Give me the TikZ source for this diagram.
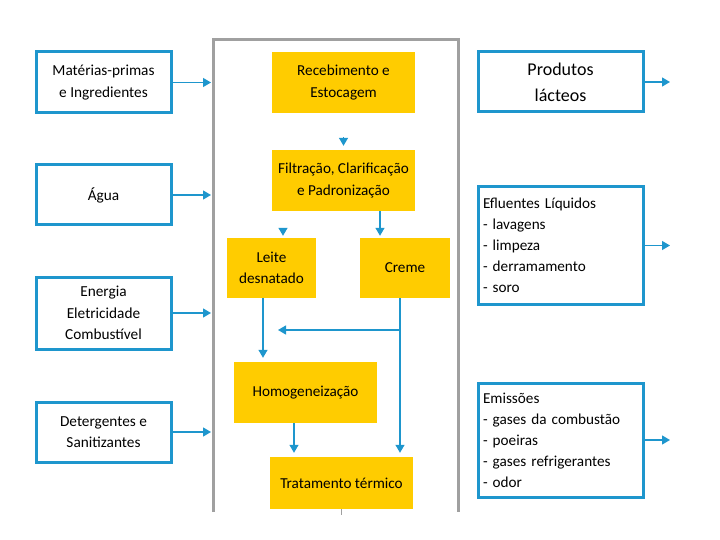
\documentclass[tikz,border=0pt]{standalone}
\usepackage{fontspec}
\setmainfont{Carlito}
\usepackage{tikz}
\usetikzlibrary{arrows.meta}
\definecolor{lineblue}{RGB}{30,150,205}
\definecolor{boxyellow}{RGB}{255,204,0}
\definecolor{framegray}{RGB}{160,160,160}

\begin{document}
\begin{tikzpicture}[x=1pt,y=1pt,yscale=-1,
  inbox/.style={draw=lineblue,line width=3pt,fill=white,minimum width=135pt,align=center,inner sep=0pt,font=\fontsize{15.3}{21.5}\selectfont},
  outbox/.style={draw=lineblue,line width=3pt,fill=white,minimum width=165pt,inner sep=0pt},
  stepbox/.style={fill=boxyellow,align=center,inner sep=0pt,font=\fontsize{15.2}{21.5}\selectfont},
  flow/.style={draw=lineblue,line width=1.3pt,-{Triangle[length=8pt,width=9pt]}}]
\useasboundingbox (0,0) rectangle (720,540);

%Frame of the process
\draw [framegray,line width=3pt] (213,512) -- (213,40) -- (458,40) -- (458,512) ;
\coordinate (fl) at (211,0);
\coordinate (fr) at (670,0);

% Input Nodes
\node (mat) at (103.5,82.5) [inbox,minimum height=61pt] {Matérias-primas\\e Ingredientes};
\node (agua) at (103.5,195) [inbox,minimum height=60pt] {Água};
\node (energia) at (103.5,313) [inbox,minimum height=72pt] {Energia\\Eletricidade\\Combustível};
\node (deterg) at (103.5,432) [inbox,minimum height=60pt] {Detergentes e\\Sanitizantes};

% Process Nodes
\node (receb) at (343.5,82.5) [stepbox,minimum width=143pt,minimum height=61pt] {Recebimento e\\Estocagem};
\node (filtr) at (343.5,180.5) [stepbox,minimum width=143pt,minimum height=61pt] {Filtração, Clarificação\\e Padronização};
\node (leite) at (271.5,268) [stepbox,minimum width=89pt,minimum height=60pt] {Leite\\desnatado};
\node (creme) at (405,268) [stepbox,minimum width=90pt,minimum height=60pt] {Creme};
\node (homog) at (305.5,392.5) [stepbox,minimum width=143pt,minimum height=61pt] {Homogeneização};
\node (trat) at (341.5,483) [stepbox,minimum width=143pt,minimum height=52pt] {Tratamento térmico};

% Output Nodes
\node (prod) at (560.5,82) [outbox,minimum height=60pt,align=center,font=\fontsize{18}{26}\selectfont] {Produtos\\lácteos};
\node (eflu) at (560.5,245.5) [outbox,minimum height=117pt,text width=155pt,align=left,font=\fontsize{15.2}{21}\selectfont] {Efluentes Líquidos\\- lavagens\\- limpeza\\- derramamento\\- soro};
\node (emis) at (560.5,440) [outbox,minimum height=114pt,text width=155pt,align=left,font=\fontsize{15.2}{21}\selectfont] {Emissões\\- gases da combustão\\- poeiras\\- gases refrigerantes\\- odor};

%Input arrows
\draw [flow] (mat.east) -- (mat.east -| fl) ;
\draw [flow] (agua.east) -- (agua.east -| fl) ;
\draw [flow] (energia.east) -- (energia.east -| fl) ;
\draw [flow] (deterg.east) -- (deterg.east -| fl) ;

%Process arrows
\coordinate (l1) at (283,0);
\coordinate (c1) at (380,0);
\coordinate (l2) at (263,0);
\coordinate (c2) at (400,0);
\coordinate (h1) at (294,0);
\coordinate (br) at (278,330);
\draw [flow,shorten <=24pt,shorten >=4pt] (receb.south) -- (filtr.north) ;
\draw [flow,shorten <=17pt,shorten >=2pt] (filtr.south -| l1) -- (leite.north -| l1) ;
\draw [flow,shorten >=2pt] (filtr.south -| c1) -- (creme.north -| c1) ;
\draw [flow,shorten >=4pt] (leite.south -| l2) -- (homog.north -| l2) ;
\draw [flow,shorten >=4pt] (creme.south -| c2) -- (trat.north -| c2) ;
\draw [flow] (br -| c2) -- (br) ;
\draw [flow,shorten >=4pt] (homog.south -| h1) -- (trat.north -| h1) ;
\draw [framegray,line width=0.6pt] (trat.south) -- ++(0,6) ;

%Output arrows
\draw [flow] (prod.east) -- (prod.east -| fr) ;
\draw [flow] (eflu.east) -- (eflu.east -| fr) ;
\draw [flow] (emis.east) -- (emis.east -| fr) ;

\end{tikzpicture}
\end{document}
